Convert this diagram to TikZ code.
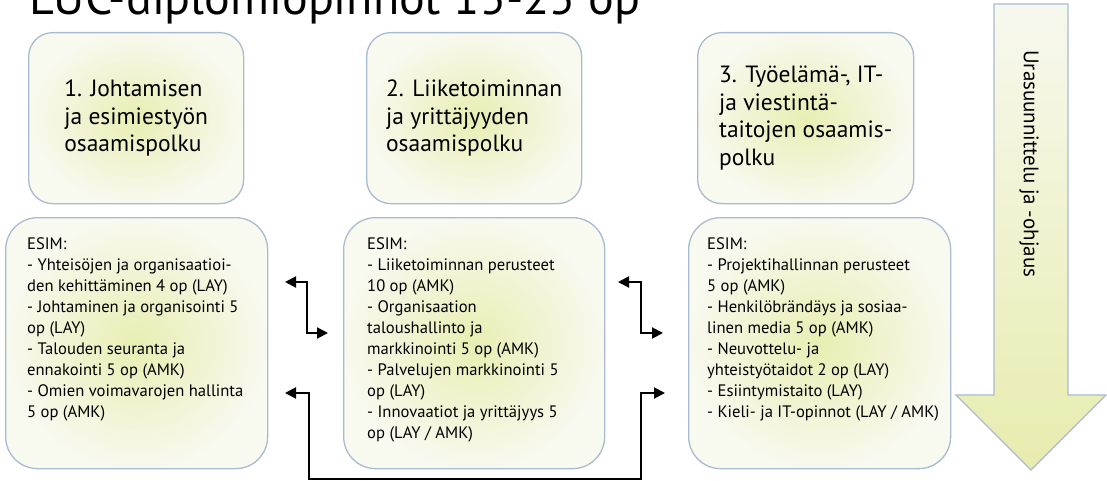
\documentclass[tikz,border=0pt]{standalone}
\usepackage{fontspec}
\setmainfont{PT Sans}
\usetikzlibrary{arrows.meta,calc}
\definecolor{bord}{HTML}{A9BBD0}
\definecolor{fin}{HTML}{E9EEB2}
\definecolor{fout}{HTML}{F8F9EF}
\definecolor{atop}{HTML}{F7F8EE}
\definecolor{abot}{HTML}{E8ECAE}
\tikzset{
  topbox/.style={draw=bord, line width=1.3pt, rounded corners=24pt, inner color=fin, outer color=fout, inner sep=0pt, anchor=north west},
  lowbox/.style={draw=bord, line width=1.3pt, rounded corners=32pt, inner color=fin, outer color=fout, inner sep=0pt, anchor=north west},
  toptext/.style={align=left, inner sep=0pt, font=\fontsize{23.5}{27.5}\selectfont},
  lowtext/.style={align=left, inner sep=0pt, anchor=north west, font=\fontsize{16.6}{21}\selectfont},
  conn/.style={line width=2pt, {Triangle[length=11pt,width=11pt]}-{Triangle[length=11pt,width=11pt]}},
}
\begin{document}
\begin{tikzpicture}[x=1pt,y=-1pt]
\useasboundingbox (0,0) rectangle (1107,481);
\clip (0,0) rectangle (1107,481);
\fill[white] (0,0) rectangle (1107,481);
% title
\node[anchor=base west, inner sep=0pt] (title) at (29,15) {\resizebox{611pt}{!}{\fontsize{50}{50}\selectfont LUC-diplomiopinnot 15-25 op}};
% top boxes
\node[topbox, minimum width=215pt, minimum height=171pt] (t1) at (28,32) {};
\node[topbox, minimum width=215pt, minimum height=171pt] (t2) at (366,32) {};
\node[topbox, minimum width=216pt, minimum height=171pt] (t3) at (697,32) {};
\node[toptext] (t1t) at (t1.center) {1. Johtamisen\\ja esimiestyön\\osaamispolku};
\node[toptext] (t2t) at (t2.center) {2. Liiketoiminnan\\ja yrittäjyyden\\osaamispolku};
\node[toptext] (t3t) at (t3.center) {3. Työelämä-, IT-\\ja viestintä-\\taitojen osaamis-\\polku};
% lower boxes
\node[lowbox, minimum width=262pt, minimum height=251pt] (l1) at (5,217) {};
\node[lowbox, minimum width=261pt, minimum height=251pt] (l2) at (343,217) {};
\node[lowbox, minimum width=262pt, minimum height=251pt] (l3) at (688,217) {};
\node[lowtext] (l1t) at ($(l1.north west)+(22,20)$) {ESIM:\\- Yhteisöjen ja organisaatioi-\\den kehittäminen 4 op (LAY)\\- Johtaminen ja organisointi 5\\op (LAY)\\- Talouden seuranta ja\\ennakointi 5 op (AMK)\\- Omien voimavarojen hallinta\\5 op (AMK)};
\node[lowtext] (l2t) at ($(l2.north west)+(24,20)$) {ESIM:\\- Liiketoiminnan perusteet\\10 op (AMK)\\- Organisaation\\taloushallinto ja\\markkinointi 5 op (AMK)\\- Palvelujen markkinointi 5\\op (LAY)\\- Innovaatiot ja yrittäjyys 5\\op (LAY / AMK)};
\node[lowtext] (l3t) at ($(l3.north west)+(19,20)$) {ESIM:\\- Projektihallinnan perusteet\\5 op (AMK)\\- Henkilöbrändäys ja sosiaa-\\linen media 5 op (AMK)\\- Neuvottelu- ja\\yhteistyötaidot 2 op (LAY)\\- Esiintymistaito (LAY)\\- Kieli- ja IT-opinnot (LAY / AMK)};
% down arrow
\path[draw=bord, line width=1.3pt, top color=atop, bottom color=abot]
  (994,4) -- (1068,4) -- (1068,395) -- (1106,395) -- (1031,470) -- (956,395) -- (994,395) -- cycle;
\node[rotate=-90, anchor=west, inner sep=0pt, font=\fontsize{21}{21}\selectfont] (at) at (1029,50) {Urasuunnittelu ja -ohjaus};
% connectors
\coordinate (c1a) at (285,282);
\coordinate (c1b) at (328,333);
\coordinate (c2a) at (618,282);
\coordinate (c2b) at (663,333);
\coordinate (c3a) at (285,393);
\coordinate (c3b) at (665,393);
\draw[conn] (c1a) -| ($(c1a)!.5!(c1b)$) |- (c1b);
\draw[conn] (c2a) -| ($(c2a)!.5!(c2b)$) |- (c2b);
\draw[conn] (c3a) -- ++(24,0) |- ($(c3b)+(-24,86)$) |- (c3b);
\end{tikzpicture}
\end{document}
